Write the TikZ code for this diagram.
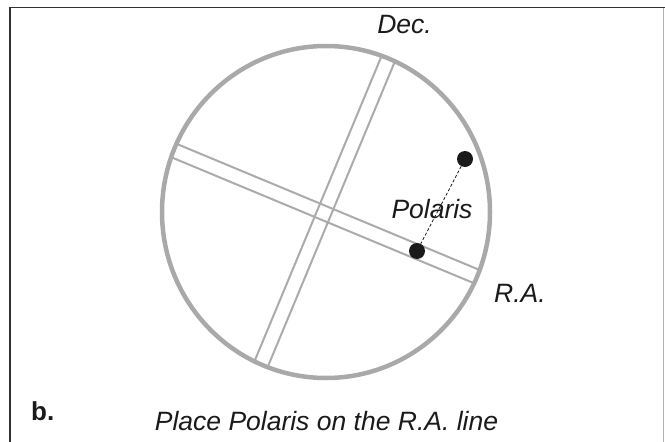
\documentclass[tikz,border=0pt]{standalone}
\usepackage{fontspec}
\setsansfont{Liberation Sans}
\usetikzlibrary{positioning}
\definecolor{ink}{HTML}{1A1A1A}
\definecolor{ring}{HTML}{A9A9A9}
\definecolor{hair}{HTML}{ABABAB}
\tikzset{
  lbl/.style={font=\sffamily\itshape\fontsize{26.5}{30}\selectfont, text=ink, inner sep=0pt, anchor=base},
  star/.style={circle, fill=ink, inner sep=0pt, minimum size=16pt},
}
\begin{document}
\begin{tikzpicture}[x=1pt, y=-1pt,
  wire/.style={hair, line width=2pt}]
\useasboundingbox (0,0) rectangle (665,442);
\draw[ink!90, line width=1.5pt] (10,442) -- (10,7.5) -- (665,7.5);
\draw[black!30, line width=0.6pt] (663,7.5) -- (663,442);
% reticle, cut by the field of view
\begin{scope}
\clip (326,212) ellipse [x radius=164, y radius=166];
\begin{scope}[shift={(324,213)}, rotate=-22.6]
\foreach \s in {-7.2,7.2} {
  \draw[wire] (-200,\s) -- (200,\s);
  \draw[wire] (\s,-200) -- (\s,200);
}
\end{scope}
\end{scope}
\draw[ring, line width=4.5pt] (326,212) ellipse [x radius=164, y radius=166];
\node[star] (top) at (465,159) {};
\node[star] (low) at (417,251) {};
\draw[ink, line width=0.8pt, dash pattern=on 3pt off 2pt] (top) -- (low);
\node[lbl] (dec) at (404.5,33) {Dec.};
\node[lbl] (pol) at (432,218) {Polaris};
\node[lbl] (ra) at (520,302.5) {R.A.};
\node[lbl] (cap) at (326.5,430) {Place Polaris on the R.A. line};
\node[lbl, font=\sffamily\bfseries\fontsize{26}{30}\selectfont, anchor=base west] (tag) at (31,420) {b.};
\end{tikzpicture}
\end{document}
